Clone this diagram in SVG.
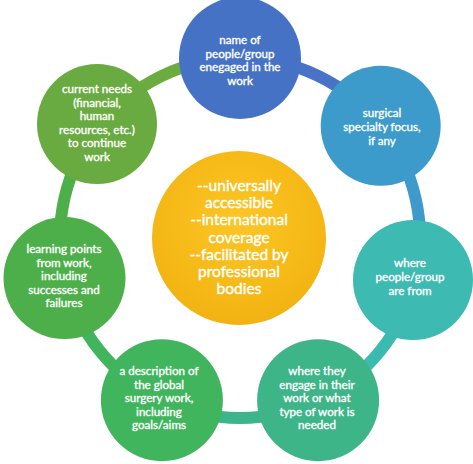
<svg xmlns="http://www.w3.org/2000/svg" width="473" height="464" viewBox="0 0 473 464">
<style>
.t{font-family:Lato,"Liberation Sans",sans-serif;font-size:11.6px;fill:#fff;stroke:#fff;stroke-width:0.35;text-anchor:middle}
.c{font-family:Lato,"Liberation Sans",sans-serif;font-size:15.5px;fill:#fff;stroke:#fff;stroke-width:0.4;text-anchor:middle}
.seg{fill:none;stroke-width:12}
</style>
<defs>
<radialGradient id="gc" cx="50%" cy="40%" r="60%"><stop offset="0" stop-color="#fcc624"/><stop offset="1" stop-color="#f2b312"/></radialGradient>
</defs>
<rect width="473" height="464" fill="#fff"/>
<g id="connectors">
<path class="seg" stroke="#4873c6" d="M240 58 A180 180 0 0 1 380.7 125.8"/>
<path class="seg" stroke="#3d9acb" d="M380.7 125.8 A180 180 0 0 1 415.5 278.1"/>
<path class="seg" stroke="#3bbab0" d="M415.5 278.1 A180 180 0 0 1 318.1 400.2"/>
<path class="seg" stroke="#3cb58a" d="M318.1 400.2 A180 180 0 0 1 161.9 400.2"/>
<path class="seg" stroke="#41b55e" d="M161.9 400.2 A180 180 0 0 1 64.5 278.1"/>
<path class="seg" stroke="#4daf49" d="M64.5 278.1 A180 180 0 0 1 99.3 125.8"/>
<path class="seg" stroke="#6cab3f" d="M99.3 125.8 A180 180 0 0 1 240 58"/>
</g>
<g id="center">
<circle cx="239" cy="238" r="87" fill="url(#gc)"/>
<text class="c" x="239" y="191">--universally</text>
<text class="c" x="239" y="208.2">accessible</text>
<text class="c" x="239" y="225.4">--international</text>
<text class="c" x="239" y="242.6">coverage</text>
<text class="c" x="239" y="259.8">--facilitated by</text>
<text class="c" x="239" y="277">professional</text>
<text class="c" x="239" y="294.2">bodies</text>
</g>
<g id="n1">
<circle cx="240" cy="58" r="61" fill="#4672c5"/>
<text class="t" x="240" y="44">name of</text>
<text class="t" x="240" y="57.5">people/group</text>
<text class="t" x="240" y="71">enegaged in the</text>
<text class="t" x="240" y="84.5">work</text>
</g>
<g id="n2">
<circle cx="380.7" cy="125.8" r="60" fill="#3c9bcb"/>
<text class="t" x="382" y="117">surgical</text>
<text class="t" x="382" y="131">specialty focus,</text>
<text class="t" x="382" y="145">if any</text>
</g>
<g id="n3">
<circle cx="413" cy="280" r="60" fill="#3dbab1"/>
<text class="t" x="410" y="267">where</text>
<text class="t" x="410" y="281">people/group</text>
<text class="t" x="410" y="295">are from</text>
</g>
<g id="n4">
<circle cx="318.1" cy="400.2" r="61" fill="#3db589"/>
<text class="t" x="317" y="375">where they</text>
<text class="t" x="317" y="388.5">engage in their</text>
<text class="t" x="317" y="402">work or what</text>
<text class="t" x="317" y="415.5">type of work is</text>
<text class="t" x="317" y="429">needed</text>
</g>
<g id="n5">
<circle cx="161.9" cy="400.2" r="61" fill="#40b55d"/>
<text class="t" x="159" y="375">a description of</text>
<text class="t" x="159" y="388.5">the global</text>
<text class="t" x="159" y="402">surgery work,</text>
<text class="t" x="159" y="415.5">including</text>
<text class="t" x="159" y="429">goals/aims</text>
</g>
<g id="n6">
<circle cx="64.5" cy="278.1" r="61" fill="#4caf4a"/>
<text class="t" x="64" y="253">learning points</text>
<text class="t" x="64" y="266.5">from work,</text>
<text class="t" x="64" y="280">including</text>
<text class="t" x="64" y="293.5">successes and</text>
<text class="t" x="64" y="307">failures</text>
</g>
<g id="n7">
<circle cx="97" cy="124" r="60" fill="#6aab41"/>
<text class="t" x="97" y="93">current needs</text>
<text class="t" x="97" y="106.5">(financial,</text>
<text class="t" x="97" y="120">human</text>
<text class="t" x="97" y="133.5">resources, etc.)</text>
<text class="t" x="97" y="147">to continue</text>
<text class="t" x="97" y="160.5">work</text>
</g>
</svg>
